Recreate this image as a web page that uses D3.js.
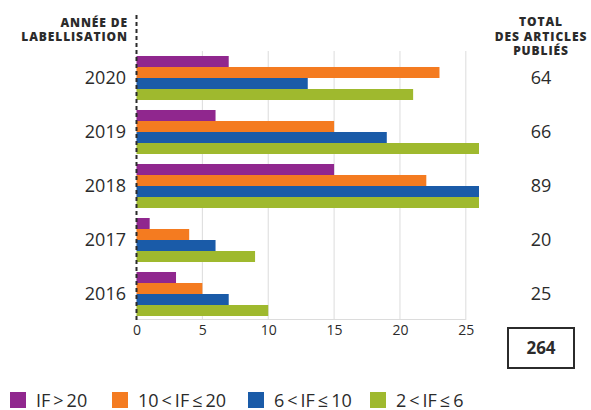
<!DOCTYPE html>
<html>
<head>
<meta charset="utf-8">
<script src="https://cdn.jsdelivr.net/npm/d3@7"></script>
<style>
  body { margin: 0; background: #fff; }
  text { font-family: "Open Sans", sans-serif; fill: #2b2b2b; }
</style>
</head>
<body>
<div id="chart"></div>
<script>
var years = ["2020", "2019", "2018", "2017", "2016"];
var series = ["IF\u2009>\u200920", "10\u2009<\u2009IF\u2009≤\u200920", "6\u2009<\u2009IF\u2009≤\u200910", "2\u2009<\u2009IF\u2009≤\u20096"];
var colors = ["#90278e", "#f47b20", "#1a5ba8", "#9fb92e"];
var ifOver20 = [7, 6, 15, 1, 3];
var if10to20 = [23, 15, 22, 4, 5];
var if6to10 = [13, 19, 26, 6, 7];
var if2to6 = [21, 26, 26, 9, 10];
var totals = [64, 66, 89, 20, 25];
var grandTotal = 264;
var xTicks = [0, 5, 10, 15, 20, 25];

var values = [ifOver20, if10to20, if6to10, if2to6];

var W = 591, H = 410;
var svg = d3.select("#chart").append("svg")
  .attr("width", W)
  .attr("height", H);

var x = d3.scaleLinear().domain([0, 26]).range([136.5, 479]);
var y = d3.scaleBand().domain(years).range([51, 321]).paddingInner(0.185).paddingOuter(0.0925);
var ySub = d3.scaleBand().domain(series).range([0, y.bandwidth()]);

// gridlines
svg.append("g")
  .selectAll("line")
  .data(xTicks.slice(1))
  .enter()
  .append("line")
  .attr("x1", function (d) { return x(d) })
  .attr("x2", function (d) { return x(d) })
  .attr("y1", 51)
  .attr("y2", 320)
  .attr("stroke", "#dcdcdc")
  .attr("stroke-width", 1);

svg.append("line")
  .attr("x1", x(0)).attr("x2", x(25))
  .attr("y1", 319.5).attr("y2", 319.5)
  .attr("stroke", "#dcdcdc");

// bars
var groups = svg.append("g")
  .selectAll("g")
  .data(years)
  .enter()
  .append("g")
  .attr("transform", function (d) { return "translate(0," + y(d) + ")" });

groups.selectAll("rect")
  .data(function (d, i) {
    return series.map(function (s, j) { return { s: s, v: values[j][i], c: colors[j] } })
  })
  .enter()
  .append("rect")
  .attr("x", x(0))
  .attr("y", function (d) { return ySub(d.s) })
  .attr("width", function (d) { return x(d.v) - x(0) })
  .attr("height", ySub.bandwidth())
  .attr("fill", function (d) { return d.c });

// dashed axis line
svg.append("line")
  .attr("x1", x(0)).attr("x2", x(0))
  .attr("y1", 15).attr("y2", 322)
  .attr("stroke", "#2b2b2b")
  .attr("stroke-width", 2)
  .attr("stroke-dasharray", "4,3");

// x axis labels
var xAxis = d3.axisBottom(x).tickValues(xTicks).tickSize(0).tickPadding(0);
var gx = svg.append("g")
  .attr("transform", "translate(0,335)")
  .call(xAxis);
gx.select(".domain").remove();
gx.selectAll("text")
  .attr("dy", 0)
  .style("font-family", "'Open Sans', sans-serif")
  .style("font-size", "14px")
  .attr("fill", "#2b2b2b");

// year labels
var yAxis = d3.axisLeft(y).tickSize(0).tickPadding(0);
var gy = svg.append("g")
  .attr("transform", "translate(126,0)")
  .call(yAxis);
gy.select(".domain").remove();
gy.selectAll("text")
  .style("font-family", "'Open Sans', sans-serif")
  .style("font-size", "18px")
  .attr("fill", "#2b2b2b");

// totals
svg.append("g")
  .selectAll("text")
  .data(totals)
  .enter()
  .append("text")
  .attr("x", 541)
  .attr("y", function (d, i) { return y(years[i]) + y.bandwidth() / 2 })
  .attr("dy", "0.35em")
  .attr("text-anchor", "middle")
  .style("font-size", "18px")
  .text(function (d) { return d });

// headers
var left = svg.append("text")
  .attr("text-anchor", "end")
  .style("font-size", "12px")
  .style("font-weight", "800")
  .style("letter-spacing", "0.9px");
left.append("tspan").attr("x", 128).attr("y", 27).text("ANNÉE DE");
left.append("tspan").attr("x", 128).attr("y", 41).text("LABELLISATION");

var right = svg.append("text")
  .attr("text-anchor", "middle")
  .style("font-size", "12px")
  .style("font-weight", "800")
  .style("letter-spacing", "0.9px");
right.append("tspan").attr("x", 541).attr("y", 26).text("TOTAL");
right.append("tspan").attr("x", 541).attr("y", 41).text("DES ARTICLES");
right.append("tspan").attr("x", 541).attr("y", 55).text("PUBLIÉS");

// grand total box
svg.append("rect")
  .attr("x", 508).attr("y", 328)
  .attr("width", 66).attr("height", 40)
  .attr("fill", "none")
  .attr("stroke", "#2b2b2b")
  .attr("stroke-width", 2);
svg.append("text")
  .attr("x", 541).attr("y", 348)
  .attr("dy", "0.35em")
  .attr("text-anchor", "middle")
  .style("font-size", "17px")
  .style("font-weight", "bold")
  .text(grandTotal);

// legend
var legX = [10, 112, 248, 370];
var leg = svg.append("g")
  .selectAll("g")
  .data(series)
  .enter()
  .append("g")
  .attr("transform", function (d, i) { return "translate(" + legX[i] + ",392)" });
leg.append("rect")
  .attr("width", 16).attr("height", 16)
  .attr("fill", function (d, i) { return colors[i] });
leg.append("text")
  .attr("x", 26).attr("y", 14.5)
  .style("font-size", "18px")
  .attr("fill", "#333")
  .text(function (d) { return d });
</script>
</body>
</html>
